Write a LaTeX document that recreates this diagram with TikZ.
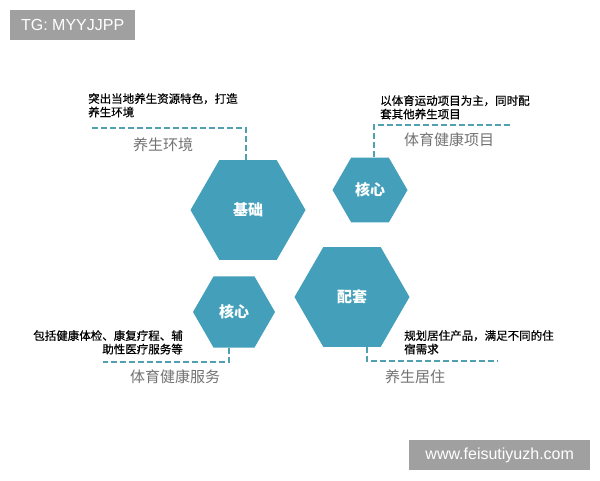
\documentclass[tikz,border=0pt]{standalone}
\usepackage{fontspec}
\setmainfont{Liberation Sans}
\newfontfamily\cjk{Noto Sans CJK SC}
\newfontfamily\cjkd[FakeBold=0.6]{Noto Sans CJK SC}
\usetikzlibrary{shapes.geometric}
\definecolor{hexc}{RGB}{68,160,186}
\definecolor{linec}{RGB}{80,160,178}
\definecolor{labc}{RGB}{115,115,115}
\definecolor{tagc}{RGB}{160,160,160}
\begin{document}
\begin{tikzpicture}[x=1pt,y=-1pt,
 hexa/.style={regular polygon, regular polygon sides=6, fill=hexc, draw=none, inner sep=0pt, text=white, font=\cjk\bfseries\fontsize{15}{18}\selectfont},
 conn/.style={draw=linec, line width=2pt, dash pattern=on 6pt off 3pt},
 desc/.style={font=\cjkd\fontsize{11.5}{13.5}\selectfont, inner sep=0pt, text=black},
 lab/.style={font=\cjk\fontsize{15}{18}\selectfont, text=labc, inner sep=0pt},
 tag/.style={fill=tagc, text=white, font=\fontsize{16}{19}\selectfont, inner sep=0pt}]
\useasboundingbox (0,0) rectangle (600,480);
\fill[white] (0,0) rectangle (600,480);
% tags
\node[tag, minimum width=125pt, minimum height=30pt, anchor=north west] (t1) at (10,10) {TG: MYYJJPP};
\node[tag, minimum width=181pt, minimum height=30pt, anchor=north west] (t2) at (409,440) {www.feisutiyuzh.com};
% hexagons
\node[hexa, minimum size=115pt] (jc) at (248,210) {基础};
\node[hexa, minimum size=75pt] (hx1) at (370,190) {核心};
\node[hexa, minimum size=82pt] (hx2) at (234,312) {核心};
\node[hexa, minimum size=115pt] (pt) at (352,297) {配套};
% connector ends
\coordinate (e1) at (89,128);
\coordinate (e2) at (510,125);
\coordinate (e3) at (103,362);
\coordinate (e4) at (498,361);
\draw[conn] ([xshift=-2pt]jc.north) |- (e1);
\draw[conn] ([xshift=4pt]hx1.north) |- (e2);
\draw[conn] ([xshift=-5pt]hx2.south) |- (e3);
\draw[conn] ([xshift=15pt]pt.south) |- (e4);
% descriptions
\node[desc, anchor=north west, align=left] (d1) at (88,93) {突出当地养生资源特色，打造\\养生环境};
\node[lab] (l1) at (163,145) {养生环境};
\node[desc, anchor=north west, align=left] (d2) at (380,95) {以体育运动项目为主，同时配\\套其他养生项目};
\node[lab] (l2) at (449,140) {体育健康项目};
\node[desc, anchor=north east, align=right] (d3) at (183,330) {包括健康体检、康复疗程、辅\\助性医疗服务等};
\node[lab] (l3) at (175,377) {体育健康服务};
\node[desc, anchor=north west, align=left] (d4) at (404,330) {规划居住产品，满足不同的住\\宿需求};
\node[lab] (l4) at (415,377) {养生居住};
\end{tikzpicture}
\end{document}
